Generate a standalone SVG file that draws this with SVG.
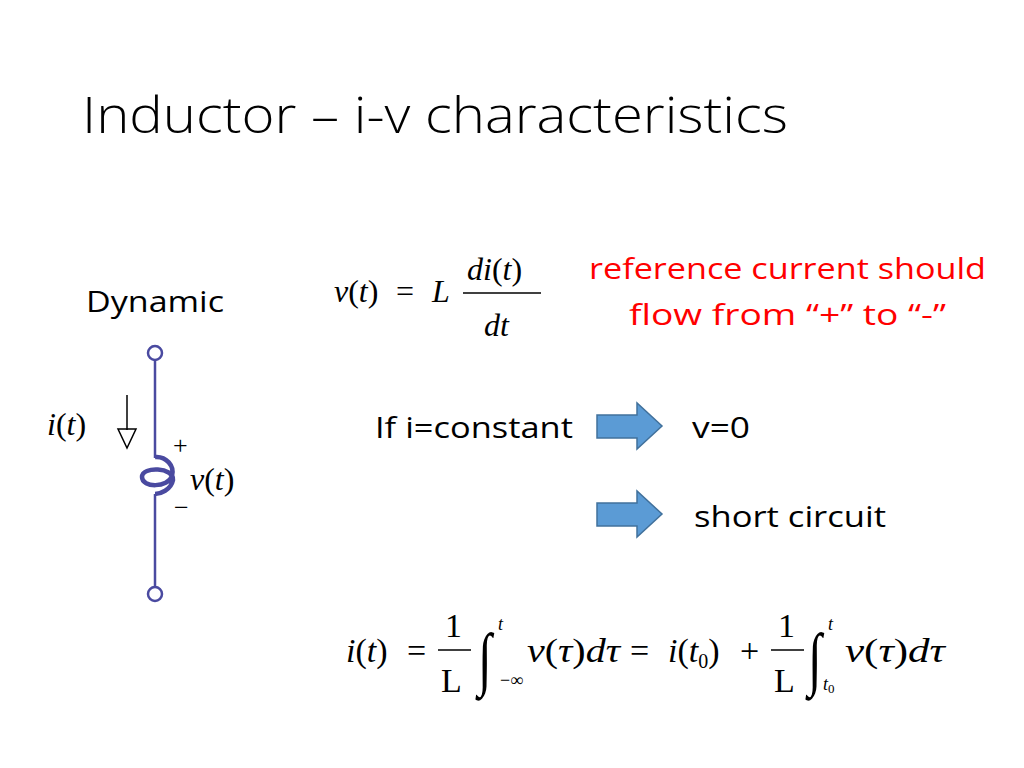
<svg xmlns="http://www.w3.org/2000/svg" width="1024" height="768" viewBox="0 0 1024 768">
<style>
.s{font-family:"Open Sans","Liberation Sans",Arial,sans-serif;fill:#000}
.m{font-family:"Liberation Serif","Times New Roman",serif;fill:#000}
.i{font-style:italic}
.r{fill:#FF0000}
.c{stroke:#4A4AA0;stroke-width:2.5;fill:none}
.blk{fill:#5B9BD5;stroke:#41719C;stroke-width:1.5}
</style>
<rect width="1024" height="768" fill="#fff"/>
<text class="s" x="82" y="133" font-size="50" font-weight="300" textLength="706" lengthAdjust="spacingAndGlyphs">Inductor – i-v characteristics</text>
<text class="s" x="86" y="312" font-size="29" textLength="138" lengthAdjust="spacingAndGlyphs">Dynamic</text>
<g id="eq1">
<text class="m" x="334" y="302" font-size="32"><tspan class="i">v</tspan>(<tspan class="i">t</tspan>)</text>
<text class="m" x="396" y="302" font-size="32">=</text><text class="m i" x="432" y="302" font-size="32">L</text>
<line x1="463" y1="293" x2="541" y2="293" stroke="#000" stroke-width="1.5"/>
<text class="m" x="467" y="280" font-size="32"><tspan class="i">di</tspan>(<tspan class="i">t</tspan>)</text>
<text class="m i" x="484" y="336" font-size="32">dt</text>
</g>
<text class="s r" x="589" y="279" font-size="30" textLength="397" lengthAdjust="spacingAndGlyphs">reference current should</text>
<text class="s r" x="629" y="325" font-size="30" textLength="317" lengthAdjust="spacingAndGlyphs">flow from “+” to “-”</text>
<g id="inductor">
<line class="c" x1="155" y1="360" x2="155" y2="458"/>
<line class="c" x1="155" y1="494" x2="155" y2="587"/>
<circle class="c" cx="155" cy="353" r="7" stroke-width="2"/>
<circle class="c" cx="155" cy="594" r="7" stroke-width="2"/>
<path d="M155,457 C166,456 175,466 172,476 C168,488 142,488 142,477 C142,466 174,467 173,480 C171,490 160,494 155,494" stroke="#4A4AA0" stroke-width="4.5" fill="none"/>
<text class="m" x="173" y="454" font-size="26">+</text>
<text class="m" x="174" y="516" font-size="26">−</text>
<text class="m" x="190" y="490" font-size="32"><tspan class="i">v</tspan>(<tspan class="i">t</tspan>)</text>
</g>
<g id="current">
<text class="m" x="47" y="435" font-size="32"><tspan class="i">i</tspan>(<tspan class="i">t</tspan>)</text>
<line x1="127" y1="395" x2="127" y2="430" stroke="#000" stroke-width="1.5"/>
<polygon points="118,429 136,429 127,448" fill="none" stroke="#000" stroke-width="1.5"/>
</g>
<text class="s" x="375" y="438" font-size="29" textLength="198" lengthAdjust="spacingAndGlyphs">If i=constant</text>
<g id="arrow1"><polygon class="blk" points="597,415 637,415 637,403 662,426 637,449 637,438 597,438"/></g>
<text class="s" x="692" y="438" font-size="29" textLength="58" lengthAdjust="spacingAndGlyphs">v=0</text>
<g id="arrow2"><polygon class="blk" points="597,503 637,503 637,491 662,514 637,537 637,526 597,526"/></g>
<text class="s" x="694" y="527" font-size="29" textLength="192" lengthAdjust="spacingAndGlyphs">short circuit</text>
<g id="eq2">
<text class="m" x="346" y="662" font-size="34"><tspan class="i">i</tspan>(<tspan class="i">t</tspan>)</text>
<text class="m" x="407" y="662" font-size="34">=</text>
<text class="m" x="445" y="637" font-size="34">1</text>
<line x1="438" y1="650" x2="471" y2="650" stroke="#000" stroke-width="1.5"/>
<text class="m" x="441" y="692" font-size="34">L</text>
<text class="m" x="0" y="0" font-size="50" transform="translate(478,682) scale(1,1.4)">∫</text>
<text class="m i" x="498" y="630" font-size="18">t</text>
<text class="m" x="500" y="686" font-size="18">−∞</text>
<text class="m" x="527" y="662" font-size="34" textLength="93" lengthAdjust="spacingAndGlyphs"><tspan class="i">v</tspan>(<tspan class="i">τ</tspan>)<tspan class="i">dτ</tspan></text>
<text class="m" x="630" y="662" font-size="34">=</text>
<text class="m" x="668" y="662" font-size="34"><tspan class="i">i</tspan>(<tspan class="i">t</tspan><tspan font-size="20" dy="6">0</tspan><tspan dy="-6">)</tspan></text>
<text class="m" x="740" y="662" font-size="34">+</text>
<text class="m" x="778" y="637" font-size="34">1</text>
<line x1="771" y1="650" x2="804" y2="650" stroke="#000" stroke-width="1.5"/>
<text class="m" x="774" y="692" font-size="34">L</text>
<text class="m" x="0" y="0" font-size="50" transform="translate(808,682) scale(1,1.4)">∫</text>
<text class="m i" x="828" y="630" font-size="18">t</text>
<text class="m" x="823" y="690" font-size="18"><tspan class="i">t</tspan><tspan font-size="13" dy="3">0</tspan></text>
<text class="m" x="845" y="662" font-size="34" textLength="100" lengthAdjust="spacingAndGlyphs"><tspan class="i">v</tspan>(<tspan class="i">τ</tspan>)<tspan class="i">dτ</tspan></text>
</g>
</svg>
